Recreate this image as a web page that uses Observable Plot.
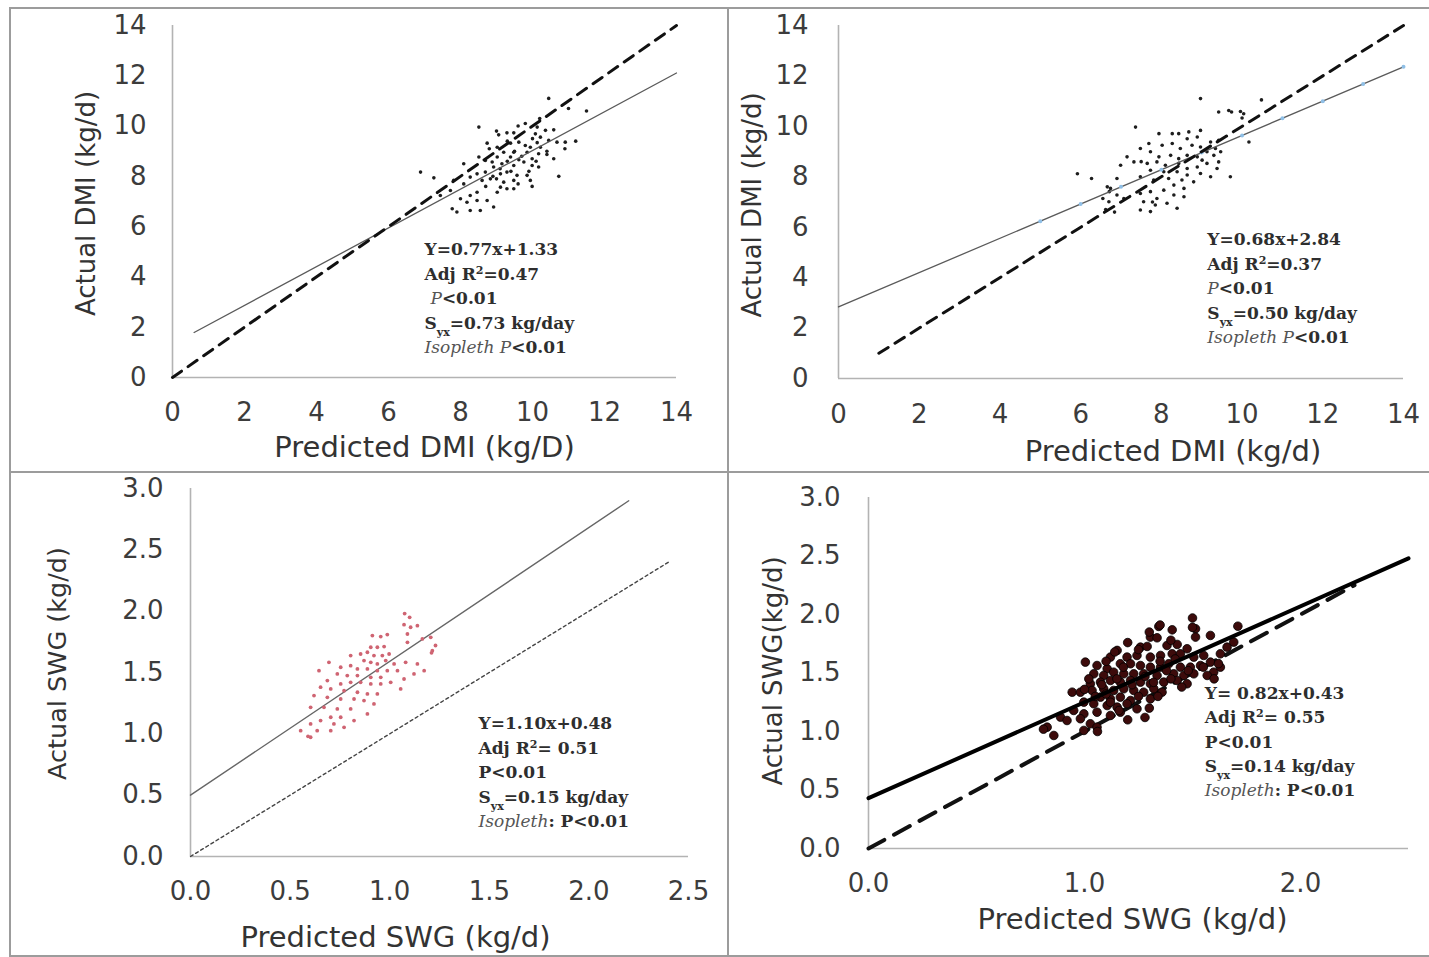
<!DOCTYPE html>
<html><head><meta charset="utf-8">
<script src="https://cdn.jsdelivr.net/npm/d3@7"></script>
<script src="https://cdn.jsdelivr.net/npm/@observablehq/plot@0.6"></script>
<style>
html,body{margin:0;padding:0;background:#fff;}
#page{position:relative;width:1429px;height:957px;overflow:hidden;background:#fff;}
.q{position:absolute;}
.q svg{display:block;}
.bl{position:absolute;background:#9c9c9c;}
</style></head><body>
<div id="page">
 <div class="q" id="q1" style="left:0;top:0"></div>
 <div class="q" id="q2" style="left:727px;top:0"></div>
 <div class="q" id="q3" style="left:0;top:469px"></div>
 <div class="q" id="q4" style="left:727px;top:469px"></div>
 <div class="bl" style="left:9px;top:7px;width:1420px;height:2px"></div>
 <div class="bl" style="left:9px;top:7px;width:2px;height:950px"></div>
 <div class="bl" style="left:727px;top:7px;width:2px;height:950px"></div>
 <div class="bl" style="left:9px;top:471px;width:1420px;height:2px"></div>
 <div class="bl" style="left:9px;top:955px;width:1420px;height:2px"></div>
</div>
<script>
// ---------- data ----------
const dmiTicks = [0, 2, 4, 6, 8, 10, 12, 14];
const swgTicksY = [0, 0.5, 1.0, 1.5, 2.0, 2.5, 3.0];
const swgTicksX3 = [0, 0.5, 1.0, 1.5, 2.0, 2.5];
const swgTicksX4 = [0, 1.0, 2.0];

const titles1 = {x: "Predicted DMI (kg/D)", y: "Actual DMI (kg/d)"};
const titles2 = {x: "Predicted DMI (kg/d)", y: "Actual DMI (kg/d)"};
const titles3 = {x: "Predicted SWG (kg/d)", y: "Actual SWG (kg/d)"};
const titles4 = {x: "Predicted SWG (kg/d)", y: "Actual SWG(kg/d)"};

const ann1 = ["Y=0.77x+1.33", "Adj R^{2}=0.47", "\u00a0*P*<0.01", "S_{yx}=0.73 kg/day", "*Isopleth P*<0.01"];
const ann2 = ["Y=0.68x+2.84", "Adj R^{2}=0.37", "*P*<0.01", "S_{yx}=0.50 kg/day", "*Isopleth P*<0.01"];
const ann3 = ["Y=1.10x+0.48", "Adj R^{2}= 0.51", "P<0.01", "S_{yx}=0.15 kg/day", "*Isopleth*: P<0.01"];
const ann4 = ["Y= 0.82x+0.43", "Adj R^{2}= 0.55", "P<0.01", "S_{yx}=0.14 kg/day", "*Isopleth*: P<0.01"];

// regression and isopleth lines (predicted, actual)
const fit1 = [[0.6, 1.79], [14, 12.11]];
const iso1 = [[0, 0], [14, 14]];
const fit2 = [[0, 2.84], [14, 12.36]];
const iso2 = [[1, 1], [14, 14]];
const fit2Marks = [[5, 6.24], [6, 6.92], [7, 7.60], [8, 8.28], [9, 8.96], [10, 9.64], [11, 10.32], [12, 11.00], [13, 11.68], [14, 12.36]];
const fit3 = [[0.0, 0.50], [2.2, 2.90]];
const iso3 = [[0, 0], [2.4, 2.4]];
const fit4 = [[0, 0.43], [2.5, 2.48]];
const iso4 = [[0, 0], [2.25, 2.25]];

// observations (predicted, actual)
const pts1 = [[8.51,9.96],[6.89,8.17],[7.26,7.94],[8.09,8.50],[9.06,9.65],[9.29,9.73],[9.48,9.73],[10.13,9.96],[10.36,9.83],[10.59,9.85],[10.08,9.69],[10.22,9.56],[10.13,9.34],[10.45,9.43],[10.68,9.36],[10.91,9.36],[8.74,9.32],[9.02,9.16],[9.39,9.32],[9.62,9.36],[9.80,9.23],[9.94,9.16],[10.22,9.16],[10.17,8.90],[10.40,8.87],[10.59,8.70],[9.99,8.70],[9.85,8.96],[9.48,8.96],[9.20,8.96],[9.02,8.77],[8.88,8.57],[8.69,8.63],[8.51,8.77],[9.39,8.77],[9.62,8.66],[9.76,8.57],[9.99,8.43],[10.17,8.37],[9.48,8.43],[9.15,8.50],[8.92,8.37],[8.69,8.17],[8.46,8.10],[8.27,7.97],[8.60,7.84],[8.83,7.90],[9.11,8.10],[9.29,8.17],[9.57,8.04],[9.85,8.04],[9.94,7.84],[9.48,7.84],[9.20,7.77],[9.11,7.57],[9.29,7.51],[9.48,7.51],[9.02,7.37],[8.46,7.37],[8.27,7.24],[8.00,7.11],[8.18,6.97],[8.46,7.04],[8.74,7.04],[8.92,6.78],[8.55,6.64],[8.27,6.64],[7.77,6.71],[7.90,6.58],[10.73,8.00],[9.99,7.60],[7.72,7.44],[7.44,7.24],[8.09,7.70],[7.81,7.84],[10.45,11.10],[11.00,10.70],[11.50,10.60],[10.20,10.30],[9.60,10.00],[9.00,9.80],[9.80,10.10],[10.00,9.50],[9.30,9.40],[8.80,9.10],[9.50,9.00],[10.40,9.00],[10.90,9.10],[11.20,9.40],[9.30,8.60],[9.70,8.80],[9.90,8.20],[9.10,8.30],[8.90,8.00],[9.40,8.20],[9.60,7.70],[10.10,8.60],[9.00,7.90],[8.70,7.60]];

const pts2 = [[9.42,10.57],[9.67,10.63],[9.96,10.59],[10.00,10.33],[7.36,9.97],[7.94,9.71],[8.27,9.71],[8.43,9.71],[8.68,9.78],[8.97,9.84],[8.64,9.51],[8.89,9.58],[9.22,9.38],[9.42,9.45],[7.69,9.32],[7.48,9.12],[7.73,8.99],[8.02,9.25],[8.27,9.32],[8.47,9.12],[8.76,9.25],[8.97,9.18],[9.13,8.99],[9.34,9.12],[9.47,8.99],[7.94,8.79],[8.23,8.85],[8.43,8.72],[8.64,8.85],[8.89,8.79],[9.01,8.66],[9.30,8.85],[9.42,8.59],[7.15,8.79],[7.32,8.59],[6.99,8.46],[7.65,8.53],[7.89,8.59],[8.10,8.46],[8.43,8.53],[8.64,8.33],[8.89,8.39],[9.13,8.53],[9.38,8.33],[7.73,8.26],[8.06,8.20],[8.39,8.20],[8.64,8.07],[8.97,8.13],[9.22,8.00],[9.71,8.00],[7.48,8.00],[6.90,7.93],[7.81,7.87],[8.18,7.93],[8.51,7.87],[8.80,7.80],[8.31,7.67],[8.56,7.54],[8.06,7.47],[7.73,7.41],[6.74,7.54],[7.48,7.34],[7.89,7.14],[8.31,7.28],[8.56,7.21],[7.56,7.01],[8.14,6.95],[7.85,6.88],[7.48,6.68],[8.39,6.75],[7.73,6.62],[10.17,9.38],[6.90,7.28],[7.07,7.14],[6.70,7.01],[8.97,11.10],[10.48,11.05],[5.92,8.12],[6.27,7.93],[6.66,7.60],[9.74,10.57],[10.04,10.50],[7.50,8.60],[7.78,7.00],[6.71,7.41],[6.55,7.14],[6.62,6.70],[6.84,6.60]];

const pts3 = [[1.072,1.890],[1.105,1.869],[1.139,1.882],[1.089,1.814],[0.913,1.801],[0.955,1.793],[0.988,1.809],[1.206,1.787],[1.164,1.774],[1.089,1.746],[1.214,1.678],[0.905,1.706],[0.938,1.706],[0.972,1.711],[0.854,1.651],[0.888,1.665],[0.921,1.638],[0.963,1.638],[0.997,1.651],[0.804,1.638],[0.871,1.597],[0.905,1.583],[0.938,1.570],[0.980,1.597],[1.022,1.570],[1.080,1.583],[1.139,1.570],[0.695,1.583],[0.754,1.543],[0.804,1.556],[0.838,1.529],[0.888,1.529],[0.938,1.515],[0.988,1.515],[1.039,1.515],[1.122,1.488],[1.173,1.515],[0.645,1.515],[0.737,1.488],[0.787,1.475],[0.838,1.475],[0.905,1.461],[0.955,1.461],[1.005,1.420],[1.072,1.447],[0.687,1.434],[0.754,1.407],[0.804,1.420],[0.854,1.420],[0.905,1.407],[0.955,1.407],[0.653,1.380],[0.704,1.366],[0.771,1.352],[0.838,1.339],[0.888,1.325],[0.938,1.325],[1.055,1.366],[0.620,1.312],[0.687,1.298],[0.754,1.284],[0.821,1.284],[0.871,1.271],[0.921,1.244],[0.603,1.216],[0.670,1.216],[0.737,1.203],[0.804,1.203],[0.888,1.162],[0.704,1.135],[0.653,1.108],[0.754,1.135],[0.603,1.081],[0.720,1.081],[0.771,1.053],[0.636,1.026],[0.704,1.026],[0.553,1.026],[0.603,0.972],[0.821,1.108],[1.075,1.980],[1.100,1.950],[0.590,0.980],[1.210,1.660],[1.230,1.720]];

const pts4 = [[1.344,1.898],[1.406,1.869],[1.514,1.878],[1.305,1.807],[1.336,1.801],[1.514,1.807],[1.583,1.821],[1.259,1.721],[1.290,1.727],[1.382,1.735],[1.429,1.744],[1.475,1.707],[1.406,1.664],[1.444,1.664],[1.151,1.693],[1.120,1.636],[1.197,1.636],[1.243,1.650],[1.305,1.636],[1.352,1.650],[1.506,1.636],[1.552,1.650],[1.629,1.664],[1.004,1.593],[1.058,1.564],[1.105,1.536],[1.166,1.579],[1.213,1.579],[1.259,1.564],[1.305,1.550],[1.352,1.550],[1.390,1.579],[1.444,1.550],[1.490,1.550],[1.537,1.564],[1.583,1.593],[1.598,1.507],[1.629,1.550],[1.043,1.493],[1.089,1.479],[1.135,1.507],[1.182,1.493],[1.228,1.493],[1.274,1.493],[1.336,1.479],[1.413,1.493],[1.460,1.479],[1.506,1.493],[1.568,1.479],[1.027,1.408],[1.074,1.422],[1.120,1.436],[1.166,1.422],[1.213,1.436],[1.259,1.422],[1.305,1.408],[1.367,1.422],[1.429,1.436],[1.475,1.408],[0.943,1.336],[0.981,1.336],[1.035,1.351],[1.089,1.365],[1.135,1.351],[1.182,1.365],[1.228,1.351],[1.274,1.336],[1.321,1.365],[1.074,1.294],[1.120,1.279],[1.166,1.294],[1.213,1.265],[1.305,1.279],[1.359,1.336],[0.997,1.251],[1.043,1.237],[1.105,1.222],[1.151,1.208],[1.197,1.237],[0.950,1.180],[0.997,1.151],[1.058,1.165],[1.120,1.137],[0.889,1.123],[0.919,1.094],[0.981,1.109],[1.027,1.066],[1.058,1.037],[0.997,1.009],[0.827,1.037],[0.858,0.966],[1.166,1.165],[1.243,1.194],[1.660,1.721],[1.691,1.764],[1.500,1.970],[1.350,1.910],[1.500,1.890],[0.810,1.020],[1.280,1.120],[1.060,1.000],[1.620,1.580],[1.710,1.900],[1.15,1.45],[1.18,1.55],[1.22,1.40],[1.25,1.30],[1.28,1.47],[1.32,1.42],[1.35,1.60],[1.38,1.52],[1.40,1.45],[1.42,1.62],[1.45,1.38],[1.48,1.52],[1.10,1.32],[1.12,1.25],[1.08,1.40],[1.05,1.30],[1.02,1.45],[1.00,1.36],[1.16,1.18],[1.20,1.10],[1.30,1.20],[1.34,1.30],[1.55,1.55],[1.60,1.45],[1.25,1.70],[1.20,1.76],[1.30,1.85],[1.40,1.78],[1.10,1.60],[1.14,1.68]];

// ---------- drawing ----------
const SANS = "DejaVu Sans, Liberation Sans, sans-serif";
const SERIF = "DejaVu Serif, Liberation Serif, serif";
const px = d => d[0], py = d => d[1];

function panel(c) {
  return Plot.plot({
    width: c.w, height: c.h,
    marginLeft: c.ml, marginRight: c.mr, marginTop: c.mt, marginBottom: c.mb,
    x: {domain: c.xDom}, y: {domain: c.yDom},
    style: {background: "transparent", overflow: "visible", fontFamily: SANS},
    marks: [
      Plot.ruleY([c.yDom[0]], {stroke: "#b3b3b3", strokeWidth: 1.6}),
      Plot.ruleX([c.xDom[0]], {stroke: "#b3b3b3", strokeWidth: 1.6}),
      Plot.axisX(c.xTicks, {tickSize: 0, tickPadding: c.xPad, fontSize: 26, color: "#3c3c3c", tickFormat: c.fmt, label: null, fontFamily: SANS}),
      Plot.axisY(c.yTicks, {tickSize: 0, tickPadding: c.yPad, fontSize: 26, color: "#3c3c3c", tickFormat: c.fmt, label: null, fontFamily: SANS}),
      Plot.text([c.titles.x], {text: d => d, frameAnchor: "bottom", dx: c.xtDx, dy: c.xtDy, lineAnchor: "middle", fontSize: 29, fill: "#333", fontFamily: SANS}),
      Plot.text([c.titles.y], {text: d => d, frameAnchor: "left", dx: c.ytDx, dy: c.ytDy, rotate: -90, lineAnchor: "middle", textAnchor: "middle", fontSize: c.ytSize, fill: "#333", fontFamily: SANS}),
      ...c.marks,
      Plot.text([c.ann.join("\n")], {text: d => d, x: () => c.annX, y: () => c.annY, textAnchor: "start", lineAnchor: "top", lineHeight: 1.44, fontSize: 17, fontWeight: "bold", fill: "#2e2e2e", fontFamily: SERIF})
    ]
  });
}

const MARKUP = /(\*[^*]+\*|_\{[^}]+\}|\^\{[^}]+\})/;
function richify(svg) {
  const NS = "http://www.w3.org/2000/svg";
  const targets = [];
  svg.querySelectorAll("text").forEach(t => {
    const spans = t.querySelectorAll("tspan");
    if (spans.length) spans.forEach(s => targets.push(s)); else targets.push(t);
  });
  targets.forEach(sp => {
    const src = sp.textContent;
    if (!MARKUP.test(src)) return;
    sp.textContent = "";
    src.split(MARKUP).forEach(part => {
      if (!part) return;
      if (part[0] === "*" && part.length > 2 && part[part.length - 1] === "*") {
        const e = document.createElementNS(NS, "tspan");
        e.textContent = part.slice(1, -1);
        e.setAttribute("font-style", "italic");
        e.setAttribute("font-weight", "normal");
        e.setAttribute("fill", "#555");
        sp.appendChild(e);
      } else if (part.startsWith("_{") || part.startsWith("^{")) {
        const e = document.createElementNS(NS, "tspan");
        e.textContent = part.slice(2, -1);
        e.setAttribute("baseline-shift", part[0] === "_" ? "sub" : "super");
        e.setAttribute("font-size", "65%");
        sp.appendChild(e);
      } else {
        sp.appendChild(document.createTextNode(part));
      }
    });
  });
}

const intFmt = d => String(d);
const oneFmt = d3.format(".1f");

const p1 = panel({
  w: 727, h: 469, ml: 172, mr: 51, mt: 25, mb: 92,
  xDom: [0, 14], yDom: [0, 14], xTicks: dmiTicks, yTicks: dmiTicks, fmt: intFmt, xPad: 25, yPad: 26,
  titles: titles1, xtDx: 0, xtDy: 70, ytDx: -86, ytDy: 2, ytSize: 26,
  ann: ann1, annX: 7.0, annY: 5.55,
  marks: [
    Plot.dot(pts1, {x: px, y: py, r: 1.8, fill: "#1e1e1e"}),
    Plot.line(fit1, {x: px, y: py, stroke: "#5a5a5a", strokeWidth: 1.3}),
    Plot.line(iso1, {x: px, y: py, stroke: "#111", strokeWidth: 3, strokeDasharray: "11,8"})
  ]
});
const p2 = panel({
  w: 702, h: 469, ml: 111, mr: 26, mt: 25, mb: 91,
  xDom: [0, 14], yDom: [0, 14], xTicks: dmiTicks, yTicks: dmiTicks, fmt: intFmt, xPad: 26, yPad: 30,
  titles: titles2, xtDx: 52, xtDy: 73, ytDx: -86, ytDy: 3, ytSize: 26,
  ann: ann2, annX: 9.14, annY: 5.98,
  marks: [
    Plot.dot(pts2, {x: px, y: py, r: 1.8, fill: "#1e1e1e"}),
    Plot.line(fit2, {x: px, y: py, stroke: "#5a5a5a", strokeWidth: 1.3}),
    Plot.dot(fit2Marks, {x: px, y: py, r: 2, fill: "#8fbfe6"}),
    Plot.line(iso2, {x: px, y: py, stroke: "#111", strokeWidth: 3, strokeDasharray: "11,8"})
  ]
});
const p3 = panel({
  w: 727, h: 488, ml: 190, mr: 39, mt: 19, mb: 101,
  xDom: [0, 2.5], yDom: [0, 3], xTicks: swgTicksX3, yTicks: swgTicksY, fmt: oneFmt, xPad: 25, yPad: 27,
  titles: titles3, xtDx: -44, xtDy: 81, ytDx: -133, ytDy: -9, ytSize: 25.5,
  ann: ann3, annX: 1.446, annY: 1.18,
  marks: [
    Plot.line(iso3, {x: px, y: py, stroke: "#444", strokeWidth: 1.4, strokeDasharray: "3,3"}),
    Plot.line(fit3, {x: px, y: py, stroke: "#666", strokeWidth: 1.4}),
    Plot.dot(pts3, {x: px, y: py, r: 1.9, fill: "#cf6472"})
  ]
});
const p4 = panel({
  w: 702, h: 488, ml: 141, mr: 21, mt: 28, mb: 109,
  xDom: [0, 2.5], yDom: [0, 3], xTicks: swgTicksX4, yTicks: swgTicksY, fmt: oneFmt, xPad: 25, yPad: 28,
  titles: titles4, xtDx: -6, xtDy: 71, ytDx: -95, ytDy: -2, ytSize: 26,
  ann: ann4, annX: 1.557, annY: 1.43,
  marks: [
    Plot.line(iso4, {x: px, y: py, stroke: "#111", strokeWidth: 4, strokeDasharray: "18,11"}),
    Plot.dot(pts4, {x: px, y: py, r: 4.3, fill: "#3d0b0b", stroke: "#000", strokeWidth: 0.8}),
    Plot.line(fit4, {x: px, y: py, stroke: "#000", strokeWidth: 4})
  ]
});

[[p1, "q1"], [p2, "q2"], [p3, "q3"], [p4, "q4"]].forEach(([svg, id]) => {
  richify(svg);
  document.getElementById(id).appendChild(svg);
});
</script>
</body></html>
